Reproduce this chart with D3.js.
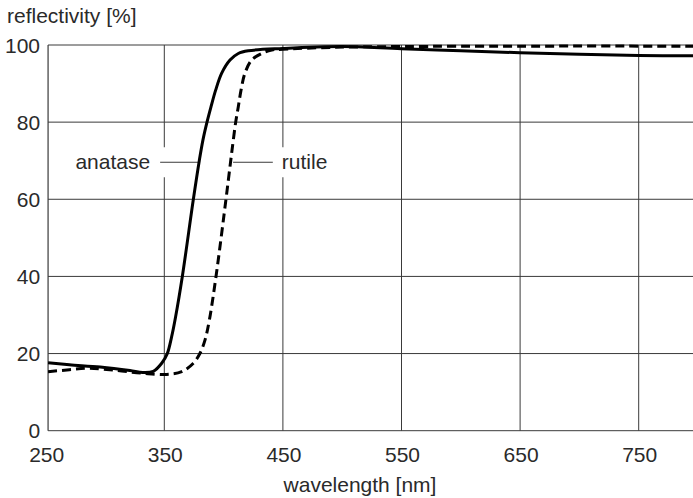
<!DOCTYPE html>
<html lang="en">
  <head>
    <meta charset="UTF-8" />
    <title>Reflectivity of anatase and rutile</title>
    <script src="https://d3js.org/d3.v7.min.js"></script>
    <style>
      body { margin: 0; background: #fff; }
      svg text { font-family: "Liberation Sans", Arial, sans-serif; fill: #2a2a2a; }
    </style>
  </head>
  <body>
    <script>
      // Data
      const anataseWl = [252, 270, 296, 321, 332, 340.7, 347.8, 352.5, 356.2, 359.5, 365.2, 374.5, 379.5, 382.6, 386, 389.4, 393.3, 398.4, 405.4, 412.4, 420.8, 450, 500, 550, 600, 650, 700, 750, 800];
      const anataseRefl = [17.6, 17.1, 16.5, 15.6, 15.1, 15.4, 17.5, 20, 24.4, 29.5, 40, 60, 70, 75.4, 80, 84, 88.3, 92.7, 96.1, 97.8, 98.5, 99.1, 99.6, 99.0, 98.5, 98.0, 97.6, 97.3, 97.2];
      const rutileWl = [252, 270, 287, 310, 332, 352, 364.7, 374.5, 380, 384.3, 388, 393.6, 402, 406, 408.2, 410.2, 412.4, 414.7, 418, 423.7, 432, 440.6, 450, 492, 550, 650, 800];
      const rutileRefl = [15.3, 15.8, 16.2, 15.6, 14.9, 14.6, 15.3, 17.5, 20, 23.5, 28.7, 40, 60, 70, 75.4, 80, 84, 88.3, 92.7, 96.1, 97.8, 98.7, 98.9, 99.4, 99.6, 99.7, 99.7];

      const xTicks = [250, 350, 450, 550, 650, 750];
      const yTicks = [0, 20, 40, 60, 80, 100];
      const xStart = 252;
      const xEnd = 800;

      // curve labels: leader line span (nm) and height (%)
      const anataseLabel = { text: "anatase", leader: [346.5, 378.5], y: 69.6 };
      const rutileLabel = { text: "rutile", leader: [408, 441.5], y: 69.6 };

      const width = 693;
      const height = 498;
      const fontSize = "21px";

      const x = d3.scaleLinear().domain([250, 750]).range([45.7, 638.7]);
      const y = d3.scaleLinear().domain([0, 100]).range([430.7, 45]);

      const svg = d3
        .select("body")
        .append("svg")
        .attr("width", width)
        .attr("height", height);

      // horizontal grid lines (100 doubles as top frame)
      svg
        .append("g")
        .selectAll("line")
        .data(yTicks)
        .join("line")
        .attr("x1", x(xStart))
        .attr("x2", x(xEnd))
        .attr("y1", (d) => y(d))
        .attr("y2", (d) => y(d))
        .attr("stroke", "#3a3a3a")
        .attr("stroke-width", 1);

      // vertical grid lines
      svg
        .append("g")
        .selectAll("line")
        .data(xTicks.slice(1))
        .join("line")
        .attr("x1", (d) => x(d))
        .attr("x2", (d) => x(d))
        .attr("y1", y(100))
        .attr("y2", y(0))
        .attr("stroke", "#3a3a3a")
        .attr("stroke-width", 1);

      // left axis line
      svg
        .append("line")
        .attr("x1", x(xStart))
        .attr("x2", x(xStart))
        .attr("y1", y(100))
        .attr("y2", y(0))
        .attr("stroke", "#3a3a3a")
        .attr("stroke-width", 1.2);

      // tick labels
      svg
        .append("g")
        .selectAll("text")
        .data(xTicks)
        .join("text")
        .attr("x", (d) => x(d) + 1)
        .attr("y", y(0) + 31)
        .attr("text-anchor", "middle")
        .style("font-size", fontSize)
        .text((d) => d);

      svg
        .append("g")
        .selectAll("text")
        .data(yTicks)
        .join("text")
        .attr("x", x(xStart) - 8)
        .attr("y", (d) => y(d))
        .attr("dy", "0.36em")
        .attr("text-anchor", "end")
        .style("font-size", fontSize)
        .text((d) => d);

      // axis titles
      svg
        .append("text")
        .attr("x", 7)
        .attr("y", 23)
        .style("font-size", fontSize)
        .text("reflectivity [%]");

      svg
        .append("text")
        .attr("x", 360)
        .attr("y", 492)
        .attr("text-anchor", "middle")
        .style("font-size", fontSize)
        .text("wavelength [nm]");

      // curve labels with white knock-out behind them
      function drawLabel(lab, anchorLeft) {
        const g = svg.append("g");
        const [l0, l1] = lab.leader;
        const t = g
          .append("text")
          .attr("x", anchorLeft ? x(l0) - 10 : x(l1) + 9)
          .attr("y", y(lab.y))
          .attr("dy", "0.3em")
          .attr("text-anchor", anchorLeft ? "end" : "start")
          .style("font-size", fontSize)
          .text(lab.text);
        const bb = t.node().getBBox();
        const left = anchorLeft ? bb.x - 2 : x(l0);
        const right = anchorLeft ? x(l1) : bb.x + bb.width + 2;
        g.insert("rect", "text")
          .attr("x", left)
          .attr("y", y(lab.y) - 15)
          .attr("width", right - left)
          .attr("height", 30)
          .attr("fill", "#fff");
        g.append("line")
          .attr("x1", x(l0))
          .attr("x2", x(l1))
          .attr("y1", y(lab.y))
          .attr("y2", y(lab.y))
          .attr("stroke", "#3a3a3a")
          .attr("stroke-width", 1);
      }
      drawLabel(anataseLabel, true);
      drawLabel(rutileLabel, false);

      const line = d3
        .line()
        .x((d) => x(d[0]))
        .y((d) => y(d[1]))
        .curve(d3.curveCatmullRom.alpha(0.5));

      svg
        .append("path")
        .datum(d3.zip(rutileWl, rutileRefl))
        .attr("fill", "none")
        .attr("stroke", "#000")
        .attr("stroke-width", 3)
        .attr("stroke-dasharray", "9,5")
        .attr("d", line);

      svg
        .append("path")
        .datum(d3.zip(anataseWl, anataseRefl))
        .attr("fill", "none")
        .attr("stroke", "#000")
        .attr("stroke-width", 3)
        .attr("d", line);
    </script>
  </body>
</html>
